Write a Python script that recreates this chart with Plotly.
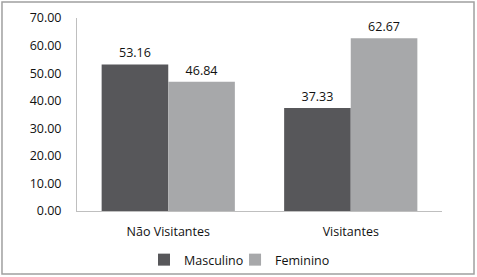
import plotly.graph_objects as go

categories = ["Não Visitantes", "Visitantes"]
masculino = [53.16, 37.33]
feminino = [46.84, 62.67]
y_ticks = [0, 10, 20, 30, 40, 50, 60, 70]
y_tick_labels = ["0.00", "10.00", "20.00", "30.00", "40.00", "50.00", "60.00", "70.00"]

FONT = "Open Sans, Liberation Sans, sans-serif"
FS = 12.5

fig = go.Figure()
fig.add_trace(go.Bar(
    name="Masculino", x=categories, y=masculino, legend="legend",
    marker=dict(color="#57575a", line=dict(width=0)),
    text=[f"{v:.2f}" for v in masculino], textposition="outside",
    textfont=dict(size=FS, color="#111"), cliponaxis=False,
))
fig.add_trace(go.Bar(
    name="Feminino", x=categories, y=feminino, legend="legend2",
    marker=dict(color="#a7a8aa", line=dict(width=0)),
    text=[f"{v:.2f}" for v in feminino], textposition="outside",
    textfont=dict(size=FS, color="#111"), cliponaxis=False,
))

legend_common = dict(orientation="h", y=-0.254, yanchor="middle", xanchor="left",
                     font=dict(size=FS), itemwidth=30, bgcolor="rgba(0,0,0,0)")

fig.update_layout(
    width=477, height=277,
    margin=dict(l=77, r=35, t=18, b=66, autoexpand=False),
    paper_bgcolor="white", plot_bgcolor="white",
    barmode="group", bargap=0.27, bargroupgap=0,
    font=dict(family=FONT, size=FS, color="#111"),
    showlegend=True,
    legend=dict(x=0.1836, **legend_common),
    legend2=dict(x=0.433, **legend_common),
    xaxis=dict(showline=True, linecolor="#bfbfbf", linewidth=1,
               ticks="outside", ticklen=9, tickcolor="rgba(0,0,0,0)",
               tickfont=dict(size=FS), showgrid=False, fixedrange=True),
    yaxis=dict(range=[0, 70], tickvals=y_ticks, ticktext=y_tick_labels,
               showline=True, linecolor="#bfbfbf", linewidth=1, showgrid=False,
               zeroline=False, ticks="outside", ticklen=12, tickcolor="rgba(0,0,0,0)",
               tickfont=dict(size=FS), fixedrange=True),
    shapes=[dict(type="rect", xref="paper", yref="paper",
                 x0=-0.2055, x1=1.0877, y0=-0.326, y1=1.083,
                 line=dict(color="#a0a0a0", width=1.5), fillcolor="rgba(0,0,0,0)")],
)

fig.write_html("out.html", config={"displayModeBar": False},
               post_script="document.body.style.margin='0';document.body.style.overflow='hidden';")
